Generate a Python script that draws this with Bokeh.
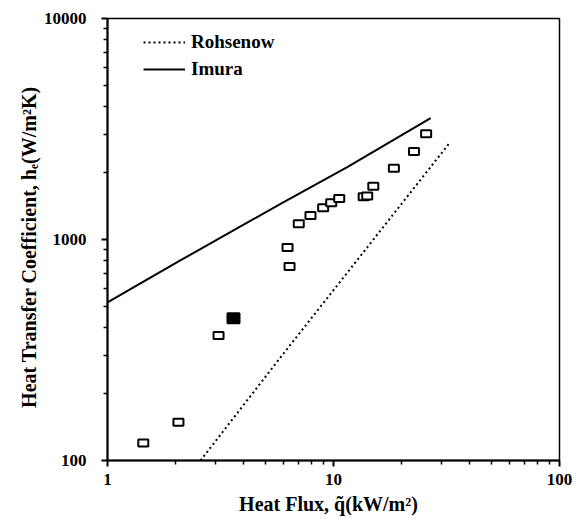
from bokeh.plotting import figure
from bokeh.models import FixedTicker, PrintfTickFormatter, Legend, LegendItem
from bokeh.embed import file_html
from bokeh.resources import INLINE

# Measured data (open symbols)
q_open = [1.44, 2.06, 3.10, 6.26, 6.39, 7.02, 7.91, 9.0, 9.77, 10.6, 13.6, 14.1, 15.0, 18.5, 22.7, 25.7]
h_open = [120, 149, 368, 920, 755, 1178, 1284, 1391, 1466, 1533, 1560, 1575, 1742, 2102, 2501, 3008]
# Overlapping points that print as a solid block
q_fill = [3.61]
h_fill = [440]

# Correlations
q_rohsenow = [2.58, 5.83, 32.4]
h_rohsenow = [100, 293, 2710]
q_imura = [1.0, 2.10, 5.83, 11.5, 26.9]
h_imura = [520, 804, 1451, 2124, 3540]

x_major = [1, 10, 100]
x_minor = [2, 3, 4, 5, 6, 7, 8, 9, 20, 30, 40, 50, 60, 70, 80, 90]
y_major = [100, 1000, 10000]
y_minor = [200, 300, 400, 500, 600, 700, 800, 900, 2000, 3000, 4000, 5000, 6000, 7000, 8000, 9000]

FONT = "Liberation Serif"

p = figure(width=584, height=522, x_axis_type="log", y_axis_type="log",
           x_range=(1, 100), y_range=(100, 10000),
           output_backend="svg", toolbar_location=None,
           min_border_left=107, min_border_right=25, min_border_top=18, min_border_bottom=62)
p.grid.visible = False
p.outline_line_color = "black"
p.outline_line_width = 1.5
p.background_fill_color = "white"
p.border_fill_color = "white"

p.xaxis.ticker = FixedTicker(ticks=x_major, minor_ticks=x_minor)
p.yaxis.ticker = FixedTicker(ticks=y_major, minor_ticks=y_minor)
for ax in (p.xaxis[0], p.yaxis[0]):
    ax.formatter = PrintfTickFormatter(format="%d")
    ax.axis_line_color = "black"
    ax.axis_line_width = 2
    ax.major_tick_line_color = "black"
    ax.major_tick_line_width = 2
    ax.minor_tick_line_color = "black"
    ax.minor_tick_line_width = 1.5
    ax.major_tick_out = 6
    ax.major_tick_in = 0
    ax.minor_tick_out = 4
    ax.minor_tick_in = 0
    ax.major_label_text_font = FONT
    ax.major_label_text_font_size = "17px"
    ax.major_label_text_font_style = "bold"
    ax.major_label_text_color = "black"
    ax.axis_label_text_font = FONT
    ax.axis_label_text_font_size = "20px"
    ax.axis_label_text_font_style = "bold"
    ax.axis_label_text_color = "black"

p.xaxis.axis_label = "Heat  Flux,  q\u0303(kW/m\u00b2)"
p.yaxis.axis_label = "Heat  Transfer  Coefficient,  h\u2091(W/m\u00b2K)"
p.xaxis.major_label_standoff = 7
p.xaxis.axis_label_standoff = 5
p.yaxis.major_label_standoff = 15
p.yaxis.axis_label_standoff = 1

r_roh = p.line(q_rohsenow, h_rohsenow, line_color="black", line_width=2, line_dash="2 3")
r_imu = p.line(q_imura, h_imura, line_color="black", line_width=2)

p.rect(q_open, h_open, width=10, height=7, width_units="screen", height_units="screen",
       fill_color="white", line_color="black", line_width=2)
p.rect(q_fill, h_fill, width=12, height=10, width_units="screen", height_units="screen",
       fill_color="black", line_color="black", line_width=2)

legend = Legend(items=[LegendItem(label="Rohsenow", renderers=[r_roh]),
                       LegendItem(label="Imura", renderers=[r_imu])],
                location=(36, 380), margin=0, padding=0, spacing=5,
                glyph_width=42, glyph_height=20, label_height=20, label_standoff=6,
                label_text_font=FONT, label_text_font_size="19px", label_text_font_style="bold",
                label_text_color="black",
                border_line_color=None, background_fill_alpha=0)
p.add_layout(legend)

open("out.html", "w").write(file_html(p, INLINE))
